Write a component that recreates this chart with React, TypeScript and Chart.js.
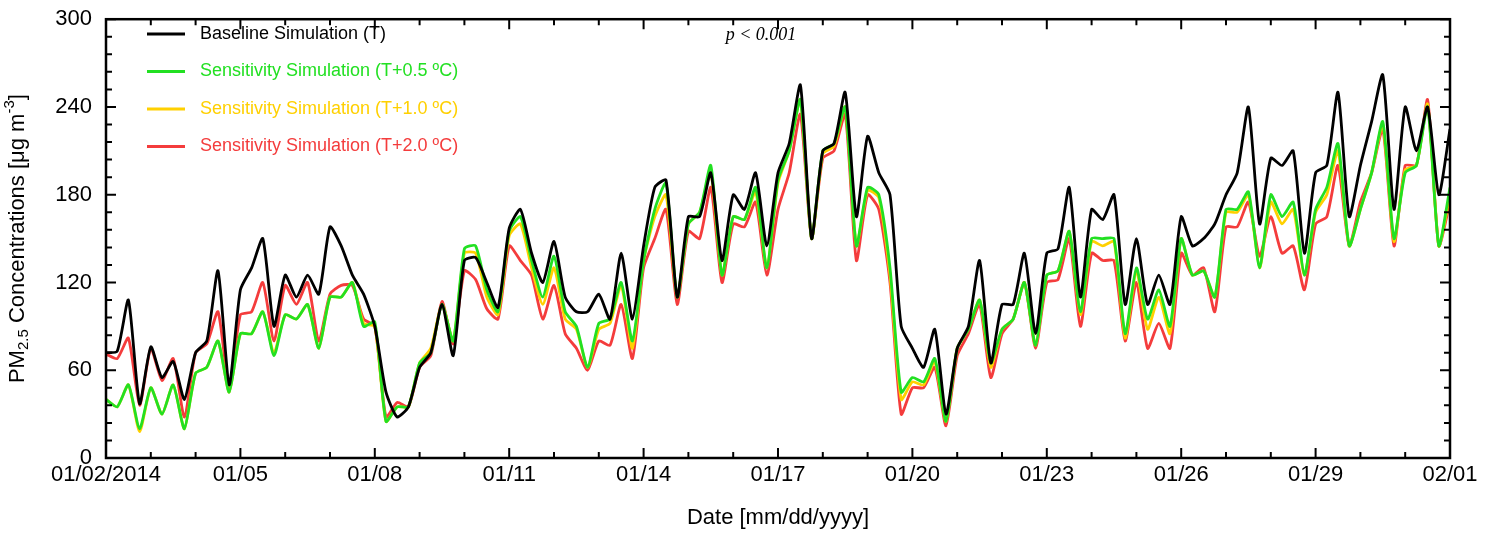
import React, { useEffect, useRef } from "react";
import { Chart, registerables } from "chart.js";
Chart.register(...registerables);

// days since 01/02/2014, 6-hourly
const baseline = [
  72,73,108,37, 76,55,66,40, 72,80,128,50, 115,130,150,90, 125,110,125,112,
  158,145,125,112, 90,45,28,35, 62,72,105,70, 135,137,120,103, 157,170,140,120,
  148,110,100,100, 112,95,140,95, 145,185,190,110, 165,165,195,135, 180,170,195,145,
  195,215,255,150, 210,215,250,165, 220,195,180,90, 75,62,88,30, 75,90,135,65,
  105,105,140,85, 140,143,185,110, 170,163,180,105, 150,105,125,105, 165,145,150,160,
  180,195,240,160, 205,200,210,140, 195,200,250,165, 200,230,262,170, 240,210,240,180, 225,
];
const sens05 = [
  40,35,50,20, 48,30,50,20, 58,62,80,45, 85,85,100,70, 98,95,105,75,
  110,110,120,90, 93,25,35,35, 65,72,105,80, 143,145,115,100, 155,165,135,110,
  138,100,90,62, 92,95,120,80, 135,170,188,110, 160,168,200,125, 165,163,185,130,
  190,210,245,150, 210,215,240,145, 185,180,130,45, 55,52,68,25, 75,88,108,65,
  88,95,120,77, 125,128,155,100, 150,150,150,85, 130,95,115,90, 150,125,128,110,
  170,170,182,130, 180,165,175,125, 170,185,215,145, 170,195,230,150, 195,200,240,145, 185,
];
const sens10 = [
  40,35,50,18, 48,30,50,20, 58,62,80,45, 85,85,100,72, 98,95,105,75,
  110,110,120,92, 90,25,35,35, 65,75,105,80, 140,140,110,98, 152,160,130,105,
  130,95,88,62, 88,92,118,75, 135,165,180,110, 160,168,195,125, 165,163,182,130,
  188,210,245,150, 208,213,240,145, 183,178,125,40, 52,50,66,25, 75,88,108,62,
  88,95,120,77, 125,128,155,98, 148,145,148,82, 128,88,110,85, 150,125,128,110,
  168,168,180,130, 175,160,170,125, 168,180,210,145, 170,195,228,148, 197,200,242,145, 180,
];
const sens20 = [
  71,68,82,36, 75,53,68,28, 72,78,100,48, 98,100,120,80, 118,105,120,80,
  112,118,118,95, 90,28,38,35, 62,70,107,78, 128,122,102,95, 145,135,125,95,
  118,85,75,60, 80,77,105,68, 130,150,170,105, 155,150,185,120, 160,158,175,125,
  170,195,235,150, 205,210,235,135, 180,170,120,30, 48,48,62,22, 70,85,105,55,
  85,95,120,75, 120,122,150,90, 140,135,135,80, 120,75,92,75, 140,125,130,100,
  158,158,175,138, 165,140,145,115, 160,165,200,145, 175,195,225,145, 200,200,245,145, 175,
];
const xTickLabels: Record<number, string> = {
  0: "01/02/2014", 3: "01/05", 6: "01/08", 9: "01/11", 12: "01/14", 15: "01/17",
  18: "01/20", 21: "01/23", 24: "01/26", 27: "01/29", 30: "02/01",
};
const seriesNames = [
  "Baseline Simulation (T)",
  "Sensitivity Simulation (T+0.5 ºC)",
  "Sensitivity Simulation (T+1.0 ºC)",
  "Sensitivity Simulation (T+2.0 ºC)",
];
const colors = ["#000000", "#22e022", "#ffd000", "#f43c3c"];
const FONT = "'Liberation Sans', Arial, sans-serif";

export default function App() {
  const ref = useRef<HTMLCanvasElement>(null);
  useEffect(() => {
    document.body.style.margin = "0";
    const all = [baseline, sens05, sens10, sens20];
    const decor = {
      id: "decor",
      afterDraw(c: any) {
        const ctx = c.ctx, a = c.chartArea, xs = c.scales.x, ys = c.scales.y;
        ctx.save();
        ctx.strokeStyle = "#000"; ctx.lineWidth = 2.5;
        ctx.strokeRect(a.left, a.top, a.right - a.left, a.bottom - a.top);
        ctx.lineWidth = 2;
        for (let d = 0; d <= 30; d++) {
          const x = xs.getPixelForValue(d), L = d % 3 === 0 ? 10 : 6;
          ctx.beginPath(); ctx.moveTo(x, a.bottom); ctx.lineTo(x, a.bottom - L);
          ctx.moveTo(x, a.top); ctx.lineTo(x, a.top + L); ctx.stroke();
        }
        for (let v = 0; v <= 300; v += 12) {
          const y = ys.getPixelForValue(v), L = v % 60 === 0 ? 10 : 6;
          ctx.beginPath(); ctx.moveTo(a.left, y); ctx.lineTo(a.left + L, y);
          ctx.moveTo(a.right, y); ctx.lineTo(a.right - L, y); ctx.stroke();
        }
        // legend
        ctx.font = `18px ${FONT}`; ctx.textBaseline = "middle"; ctx.textAlign = "left";
        seriesNames.forEach((n, i) => {
          const y = 34 + i * 37.5;
          ctx.strokeStyle = colors[i]; ctx.lineWidth = 3.2;
          ctx.beginPath(); ctx.moveTo(147, y); ctx.lineTo(185, y); ctx.stroke();
          ctx.fillStyle = colors[i]; ctx.fillText(n, 200, y);
        });
        ctx.fillStyle = "#000"; ctx.textAlign = "center";
        ctx.font = `italic 18px 'Liberation Serif', 'Times New Roman', serif`;
        ctx.fillText("p < 0.001", 761, 35);
        // x title
        ctx.font = `22px ${FONT}`;
        ctx.fillText("Date [mm/dd/yyyy]", (a.left + a.right) / 2, 518);
        // y title with sub/superscript
        ctx.translate(18, (a.top + a.bottom) / 2); ctx.rotate(-Math.PI / 2);
        const parts: [string, number, number][] = [["PM", 22, 0], ["2.5", 15, 6], [" Concentrations [μg m", 22, 0], ["-3", 15, -8], ["]", 22, 0]];
        let w = 0;
        parts.forEach(([t, s]) => { ctx.font = `${s}px ${FONT}`; w += ctx.measureText(t).width; });
        let x = -w / 2; ctx.textAlign = "left";
        parts.forEach(([t, s, dy]) => { ctx.font = `${s}px ${FONT}`; ctx.fillText(t, x, dy); x += ctx.measureText(t).width; });
        ctx.restore();
      },
    };
    const chart = new Chart(ref.current!, {
      type: "line",
      data: {
        datasets: all.map((s, i) => ({
          label: seriesNames[i],
          data: s.map((v, k) => ({ x: k / 4, y: v })),
          borderColor: colors[i], borderWidth: 2.8, pointRadius: 0, tension: 0.2, fill: false,
        })),
      },
      options: {
        animation: false, responsive: false,
        layout: { padding: { top: 12, right: 36 } },
        plugins: { legend: { display: false }, tooltip: { enabled: false } },
        scales: {
          x: {
            type: "linear", min: 0, max: 30,
            grid: { display: false }, border: { display: false },
            afterFit: (s: any) => { s.height = 77; },
            afterBuildTicks: (s: any) => { s.ticks = Object.keys(xTickLabels).map((k) => ({ value: +k })); },
            ticks: { autoSkip: false, maxRotation: 0, color: "#000", font: { size: 22, family: FONT }, padding: -4,
              callback: (v: any) => xTickLabels[v as number] ?? "" },
          },
          y: {
            min: 0, max: 300,
            grid: { display: false }, border: { display: false },
            afterFit: (s: any) => { s.width = 106; },
            ticks: { stepSize: 60, color: "#000", font: { size: 22, family: FONT }, padding: 6 },
          },
        },
      },
      plugins: [decor],
    } as any);
    return () => chart.destroy();
  }, []);
  return <canvas ref={ref} width={1486} height={535} style={{ display: "block" }} />;
}
